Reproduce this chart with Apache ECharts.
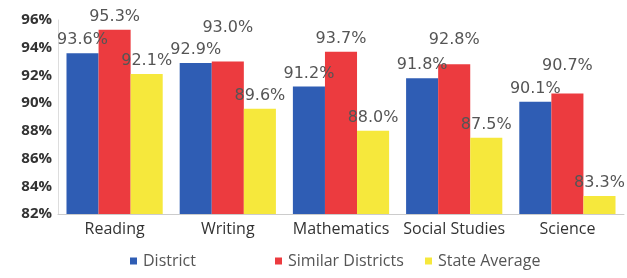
<!DOCTYPE html>
<html>
<head>
<meta charset="utf-8">
<script src="https://cdn.jsdelivr.net/npm/echarts@6/dist/echarts.min.js"></script>
<style>
  html, body { margin: 0; padding: 0; background: #fff; }
  #chart { width: 627px; height: 278px; }
</style>
</head>
<body>
<div id="chart"></div>
<script>
const categories = ['Reading', 'Writing', 'Mathematics', 'Social Studies', 'Science']
const district = [93.6, 92.9, 91.2, 91.8, 90.1]
const similarDistricts = [95.3, 93.0, 93.7, 92.8, 90.7]
const stateAverage = [92.1, 89.6, 88.0, 87.5, 83.3]
const yTicks = [82, 84, 86, 88, 90, 92, 94, 96]

const chart = echarts.init(document.getElementById('chart'))

// a few labels sit higher in the original so they don't collide
const raisedLabels = { 1: 26, 3: 16, 4: 20 }

function labelStyle(distance) {
  return {
    show: true,
    position: 'top',
    distance: distance,
    formatter: p => p.value.toFixed(1) + '%',
    color: '#555',
    fontSize: 16,
    fontFamily: 'DejaVu Sans'
  }
}

function barSeries(name, values, raised) {
  return {
    name: name,
    type: 'bar',
    barGap: '0%',
    barCategoryGap: '15%',
    label: labelStyle(5),
    data: values.map((v, i) => {
      if (raised && raised[i]) return { value: v, label: labelStyle(raised[i]) }
      return v
    })
  }
}

function legendItem(name, left) {
  return {
    data: [name],
    left: left,
    bottom: 4,
    icon: 'rect',
    itemWidth: 7,
    itemHeight: 7,
    itemGap: 6,
    textStyle: { color: '#555', fontSize: 16, fontFamily: 'Open Sans', padding: [0, 0, 0, 1] }
  }
}

const option = {
  animation: false,
  color: ['#2f5db4', '#ec3b3f', '#f6e83c'],
  legend: [
    legendItem('District', 125),
    legendItem('Similar Districts', 270),
    legendItem('State Average', 420)
  ],
  grid: { left: 58, right: 3, top: 20, bottom: 64 },
  xAxis: {
    type: 'category',
    data: categories,
    axisTick: { show: false },
    axisLine: { lineStyle: { color: '#ccc' } },
    axisLabel: { interval: 0, color: '#333', fontSize: 16, fontFamily: 'Open Sans', margin: 7 }
  },
  yAxis: {
    type: 'value',
    min: yTicks[0],
    max: yTicks[yTicks.length - 1],
    interval: 2,
    splitLine: { show: false },
    axisLine: { show: true, lineStyle: { color: '#ddd' } },
    axisLabel: {
      formatter: '{value}%',
      color: '#333',
      fontSize: 15,
      fontWeight: 'bold',
      fontFamily: 'Open Sans',
      margin: 6
    }
  },
  series: [
    barSeries('District', district),
    barSeries('Similar Districts', similarDistricts, raisedLabels),
    barSeries('State Average', stateAverage)
  ]
}

chart.setOption(option)
</script>
</body>
</html>
